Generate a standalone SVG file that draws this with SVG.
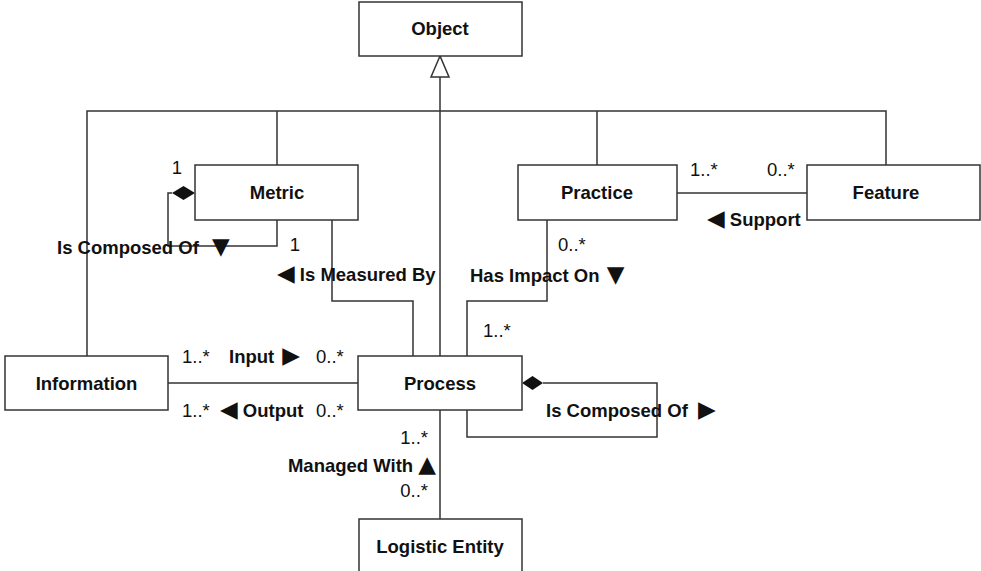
<svg xmlns="http://www.w3.org/2000/svg" width="981" height="571" viewBox="0 0 981 571">
<style>
.box{fill:#fff;stroke:#333;stroke-width:1.5}
.ln{fill:none;stroke:#333;stroke-width:1.5}
.nt{font-family:"Liberation Sans","DejaVu Sans",sans-serif;font-size:18.5px;font-weight:bold;fill:#111;text-anchor:middle}
.lb{font-family:"Liberation Sans","DejaVu Sans",sans-serif;font-size:18.5px;font-weight:bold;fill:#111}
.mu{font-family:"Liberation Sans","DejaVu Sans",sans-serif;font-size:18.5px;fill:#111}
.ar{font-family:"DejaVu Sans",sans-serif;font-size:23px}
</style>
<rect width="981" height="571" fill="#fff"/>
<g id="connectors">
<polyline class="ln" points="87,356 87,111 886,111 886,165"/>
<line class="ln" x1="277" y1="111" x2="277" y2="165"/>
<line class="ln" x1="597" y1="111" x2="597" y2="165"/>
<line class="ln" x1="440" y1="77" x2="440" y2="356"/>
<polygon points="440,56 431,77 449,77" fill="#fff" stroke="#333" stroke-width="1.5"/>
<polyline class="ln" points="172,193 168,193 168,246 277,246 277,220"/>
<polygon points="172,193 183.5,186 195,193 183.5,200" fill="#111"/>
<polyline class="ln" points="332,220 332,301 413,301 413,356"/>
<polyline class="ln" points="547,220 547,301 467,301 467,356"/>
<line class="ln" x1="677" y1="193" x2="807" y2="193"/>
<line class="ln" x1="168" y1="383" x2="358" y2="383"/>
<polyline class="ln" points="543,383 657,383 657,437 467,437 467,410"/>
<polygon points="522,383 532.5,376 543,383 532.5,390" fill="#111"/>
<line class="ln" x1="440" y1="410" x2="440" y2="519"/>
</g>
<g id="labels">
<text class="mu" x="177" y="174" text-anchor="middle">1</text>
<text class="mu" x="295" y="251" text-anchor="middle">1</text>
<text class="lb" x="57" y="254">Is Composed Of <tspan class="ar" dx="8">▼</tspan></text>
<text class="lb" x="277" y="281"><tspan class="ar">◀</tspan> Is Measured By</text>
<text class="lb" x="470" y="282">Has Impact On <tspan class="ar" dx="2">▼</tspan></text>
<text class="mu" x="558" y="251">0..*</text>
<text class="mu" x="690" y="176">1..*</text>
<text class="mu" x="767" y="176">0..*</text>
<text class="lb" x="707" y="226"><tspan class="ar">◀</tspan> Support</text>
<text class="mu" x="483" y="337">1..*</text>
<text class="mu" x="182" y="363">1..*</text>
<text class="lb" x="229" y="363">Input <tspan class="ar" dx="3">▶</tspan></text>
<text class="mu" x="316" y="363">0..*</text>
<text class="mu" x="182" y="417">1..*</text>
<text class="lb" x="220" y="417"><tspan class="ar">◀</tspan> Output</text>
<text class="mu" x="316" y="417">0..*</text>
<text class="lb" x="546" y="417">Is Composed Of <tspan class="ar" dx="5">▶</tspan></text>
<text class="mu" x="428" y="444" text-anchor="end">1..*</text>
<text class="lb" x="436" y="472" text-anchor="end">Managed With <tspan class="ar">▲</tspan></text>
<text class="mu" x="428" y="497" text-anchor="end">0..*</text>
</g>
<g id="object"><rect class="box" x="359" y="2" width="163" height="54"/><text class="nt" x="440" y="35">Object</text></g>
<g id="metric"><rect class="box" x="195" y="165" width="163" height="55"/><text class="nt" x="277" y="199">Metric</text></g>
<g id="practice"><rect class="box" x="518" y="165" width="159" height="55"/><text class="nt" x="597" y="199">Practice</text></g>
<g id="feature"><rect class="box" x="807" y="165" width="173" height="55"/><text class="nt" x="886" y="199">Feature</text></g>
<g id="information"><rect class="box" x="5" y="356" width="163" height="54"/><text class="nt" x="86.5" y="390">Information</text></g>
<g id="process"><rect class="box" x="358" y="356" width="164" height="54"/><text class="nt" x="440" y="390">Process</text></g>
<g id="logistic-entity"><rect class="box" x="359" y="519" width="163" height="60"/><text class="nt" x="440" y="553">Logistic Entity</text></g>
</svg>
